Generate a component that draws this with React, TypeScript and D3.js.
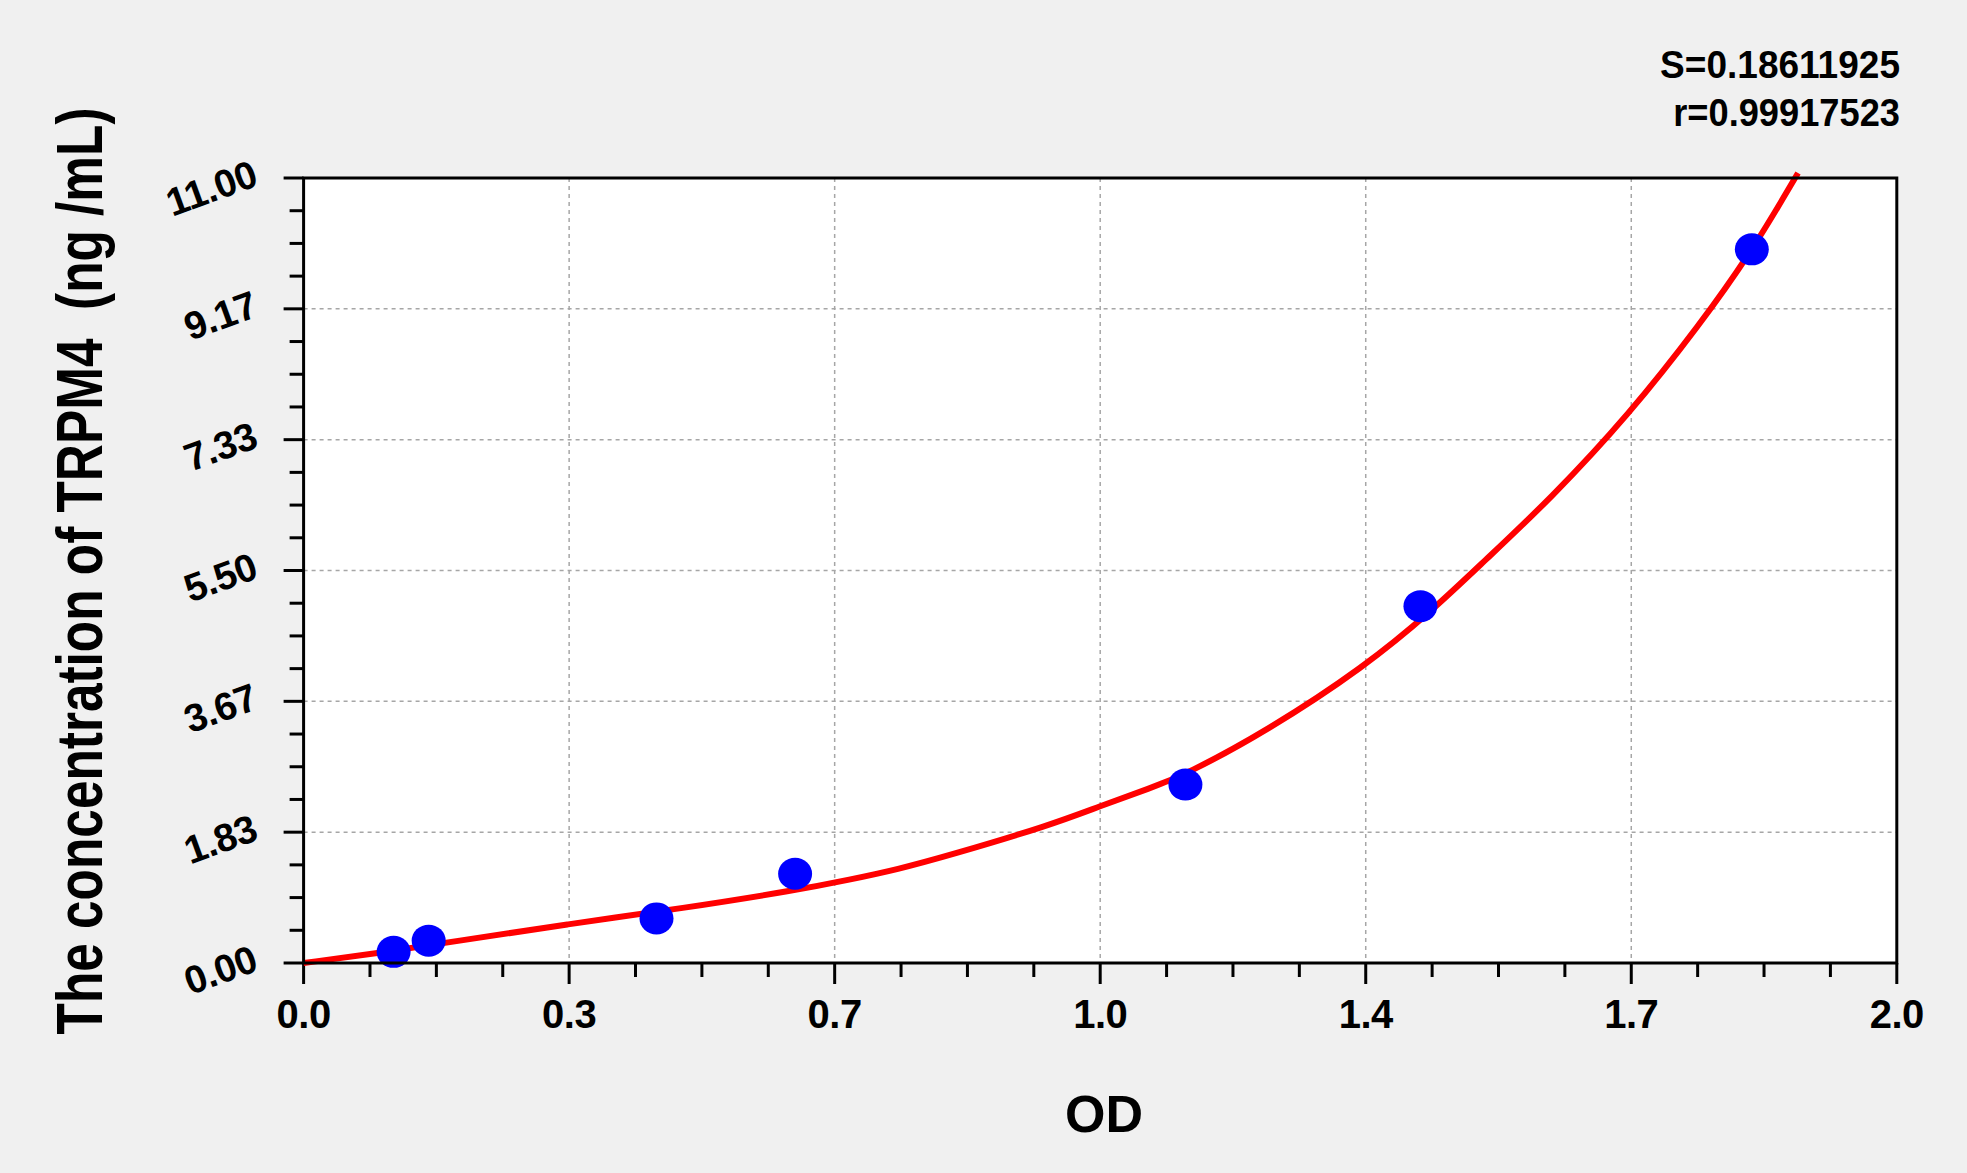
import { useEffect, useRef } from 'react';
import * as d3 from 'd3';

// Standard points (OD vs concentration)
const POINT_OD = [0.113, 0.157, 0.443, 0.617, 1.107, 1.402, 1.818];
const POINT_CONC = [0.156, 0.313, 0.625, 1.25, 2.5, 5, 10];

// Fitted curve
const CURVE_OD = [0, 0.092, 0.188, 0.332, 0.476, 0.62, 0.686, 0.745, 0.811, 0.937, 1.0, 1.063, 1.107, 1.209, 1.332, 1.418, 1.481, 1.565, 1.665, 1.753, 1.818, 1.876];
const CURVE_CONC = [0, 0.135, 0.3, 0.546, 0.766, 1.023, 1.17, 1.31, 1.51, 1.93, 2.2, 2.45, 2.64, 3.25, 4.15, 4.95, 5.62, 6.5, 7.7, 8.95, 9.97, 11.07];

const X_TICK_LABELS = ['0.0', '0.3', '0.7', '1.0', '1.4', '1.7', '2.0'];
const Y_TICK_LABELS = ['0.00', '1.83', '3.67', '5.50', '7.33', '9.17', '11.00'];

const STATS = ['S=0.18611925', 'r=0.99917523'];

const FONT = "'Liberation Sans', Arial, sans-serif";

export default function App() {
  const svgRef = useRef<SVGSVGElement>(null);

  useEffect(() => {
    document.body.style.margin = '0';
    const el = svgRef.current;
    if (!el) return;
    const svg = d3.select(el);
    svg.selectAll('*').remove();

    const W = 1967;
    const H = 1173;
    const L = 303.6, R = 1896.8, T = 178, B = 963;

    svg.attr('width', W).attr('height', H);
    svg.append('rect').attr('width', W).attr('height', H).attr('fill', '#f0f0f0');

    const x = d3.scaleLinear().domain([0, 2]).range([L, R]);
    const y = d3.scaleLinear().domain([0, 11]).range([B, T]);

    svg.append('rect').attr('x', L).attr('y', T).attr('width', R - L).attr('height', B - T).attr('fill', '#ffffff');

    const xMajor = d3.range(7).map((i) => (i * 2) / 6);
    const yMajor = d3.range(7).map((i) => (i * 11) / 6);
    const xMinor = d3.range(25).map((i) => (i * 2) / 24).filter((_, i) => i % 4 !== 0);
    const yMinor = d3.range(25).map((i) => (i * 11) / 24).filter((_, i) => i % 4 !== 0);

    // Grid
    const grid = svg.append('g').attr('stroke', '#a6a6a6').attr('stroke-width', 1.5).attr('stroke-dasharray', '4,4');
    grid.selectAll('.vg').data(xMajor.slice(1, -1)).join('line')
      .attr('x1', (d) => x(d)).attr('x2', (d) => x(d)).attr('y1', T).attr('y2', B);
    grid.selectAll('.hg').data(yMajor.slice(1, -1)).join('line')
      .attr('x1', L).attr('x2', R).attr('y1', (d) => y(d)).attr('y2', (d) => y(d));

    // Ticks
    const ticks = svg.append('g').attr('stroke', '#000').attr('stroke-width', 3);
    xMajor.forEach((v) => ticks.append('line').attr('x1', x(v)).attr('x2', x(v)).attr('y1', B).attr('y2', B + 21));
    xMinor.forEach((v) => ticks.append('line').attr('x1', x(v)).attr('x2', x(v)).attr('y1', B).attr('y2', B + 14));
    yMajor.forEach((v) => ticks.append('line').attr('x1', L - 20).attr('x2', L).attr('y1', y(v)).attr('y2', y(v)));
    yMinor.forEach((v) => ticks.append('line').attr('x1', L - 14).attr('x2', L).attr('y1', y(v)).attr('y2', y(v)));

    // Curve
    const line = d3.line<number>()
      .x((d, i) => x(CURVE_OD[i]))
      .y((d) => y(d))
      .curve(d3.curveBasis);
    svg.append('path')
      .attr('d', line(CURVE_CONC))
      .attr('fill', 'none')
      .attr('stroke', '#ff0000')
      .attr('stroke-width', 6)
      .attr('stroke-linejoin', 'round');

    // Points
    svg.selectAll('.pt').data(POINT_OD).join('ellipse')
      .attr('cx', (d) => x(d))
      .attr('cy', (d, i) => y(POINT_CONC[i]))
      .attr('rx', 17).attr('ry', 16)
      .attr('fill', '#0000ff');

    // Frame
    svg.append('rect').attr('x', L).attr('y', T).attr('width', R - L).attr('height', B - T)
      .attr('fill', 'none').attr('stroke', '#000').attr('stroke-width', 3);

    // X tick labels
    svg.selectAll('.xl').data(xMajor).join('text')
      .attr('x', (d) => x(d)).attr('y', 1028)
      .attr('text-anchor', 'middle').attr('font-family', FONT).attr('font-weight', 'bold')
      .attr('font-size', 40).attr('letter-spacing', -0.5).attr('fill', '#000')
      .text((d, i) => X_TICK_LABELS[i]);

    // Y tick labels (rotated)
    svg.selectAll('.yl').data(yMajor).join('text')
      .attr('transform', (d) => `translate(${L - 44},${y(d) + 7}) rotate(-20)`)
      .attr('text-anchor', 'end').attr('font-family', FONT).attr('font-weight', 'bold')
      .attr('font-size', 39).attr('letter-spacing', -0.5).attr('fill', '#000')
      .text((d, i) => Y_TICK_LABELS[i]);

    // Axis titles
    svg.append('text')
      .attr('x', 1104).attr('y', 1132)
      .attr('text-anchor', 'middle').attr('font-family', FONT).attr('font-weight', 'bold')
      .attr('font-size', 52).attr('fill', '#000')
      .text('OD');

    // condensed along its own direction, like the original
    svg.append('text')
      .attr('transform', 'translate(102,571) rotate(-90) scale(0.79,1)')
      .attr('text-anchor', 'middle').attr('font-family', FONT).attr('font-weight', 'bold')
      .attr('font-size', 65).attr('fill', '#000')
      .style('white-space', 'pre')
      .text('The concentration of TRPM4  (ng /mL)');

    // Fit stats
    const statScale = [0.95, 0.93];
    const statY = [78, 126];
    STATS.forEach((s, i) => {
      svg.append('text')
        .attr('transform', `translate(1900,${statY[i]}) scale(${statScale[i]},1)`)
        .attr('text-anchor', 'end').attr('font-family', FONT).attr('font-weight', 'bold')
        .attr('font-size', 39).attr('fill', '#000')
        .text(s);
    });
  }, []);

  return <svg ref={svgRef} style={{ position: 'absolute', left: 0, top: 0, display: 'block' }} />;
}
